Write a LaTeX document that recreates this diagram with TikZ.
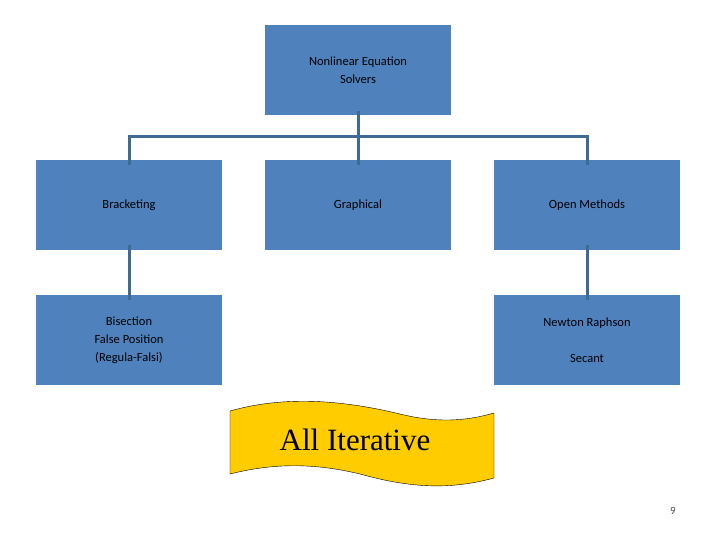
\documentclass[tikz,border=0pt]{standalone}
\usepackage{fontspec}
\setmainfont{Carlito}
\newfontfamily\bannerfont{Liberation Serif}
\usetikzlibrary{positioning}
\definecolor{BoxBlue}{HTML}{4F81BD}
\definecolor{LineBlue}{HTML}{3F6A94}
\definecolor{BannerYellow}{HTML}{FFCC00}
\tikzset{%
	% Style of the boxes
	Box/.style={fill=BoxBlue,draw=none,minimum width=186bp,minimum height=90bp,inner sep=0,
		align=center,font=\fontsize{12.5bp}{18bp}\selectfont},
	% Style of the connectors
	Connection/.style={draw=LineBlue,line width=3bp},
}
\begin{document}
\begin{tikzpicture}[x=1bp,y=-1bp]
\useasboundingbox (0,0) rectangle (720,540);

%~~~~~~~~~~~~~~~~~~~~~~~~~~~~~~~~~~~~~~~~~~~~~~~~~~
% Set Boxes
%~~~~~~~~~~~~~~~~~~~~~~~~~~~~~~~~~~~~~~~~~~~~~~~~~~
\node[Box] (Root) at (358, 70) {Nonlinear Equation\\Solvers};
\node[Box] (Bracket) at (129, 205) {Bracketing};
\node[Box] (Graph) at (358, 205) {Graphical};
\node[Box] (Open) at (587, 205) {Open Methods};
\node[Box] (BracketM) at (129, 340) {Bisection\\False Position\\(Regula-Falsi)};
\node[Box] (OpenM) at (587, 340) {Newton Raphson\\[18bp]Secant};

%~~~~~~~~~~~~~~~~~~~~~~~~~~~~~~~~~~~~~~~~~~~~~~~~~~
% Set Connectors
%~~~~~~~~~~~~~~~~~~~~~~~~~~~~~~~~~~~~~~~~~~~~~~~~~~
\coordinate (Bus) at (358, 137);
\draw[Connection] ([yshift=4bp]Root.south) -- ([yshift=-5bp]Graph.north);
\draw[Connection] ([yshift=-5bp]Bracket.north) |- (Bus) -| ([yshift=-5bp]Open.north);
\draw[Connection] ([yshift=5bp]Bracket.south) -- ([yshift=-5bp]BracketM.north);
\draw[Connection] ([yshift=5bp]Open.south) -- ([yshift=-5bp]OpenM.north);

%~~~~~~~~~~~~~~~~~~~~~~~~~~~~~~~~~~~~~~~~~~~~~~~~~~
% Banner
%~~~~~~~~~~~~~~~~~~~~~~~~~~~~~~~~~~~~~~~~~~~~~~~~~~
\draw[fill=BannerYellow,draw=black,thin] (230,411) .. controls (290,394) and (350,402) .. (400,414)
	.. controls (440,424) and (470,420) .. (494,413) -- (494,478)
	.. controls (450,490) and (410,488) .. (360,474)
	.. controls (310,462) and (270,464) .. (230,474) -- cycle;
\node[font=\bannerfont\fontsize{31bp}{36bp}\selectfont] (Banner) at (355, 440) {All Iterative};

\node[font=\fontsize{11bp}{13bp}\selectfont,text=black!70] (Page) at (673, 511) {9};
\end{tikzpicture}
\end{document}
